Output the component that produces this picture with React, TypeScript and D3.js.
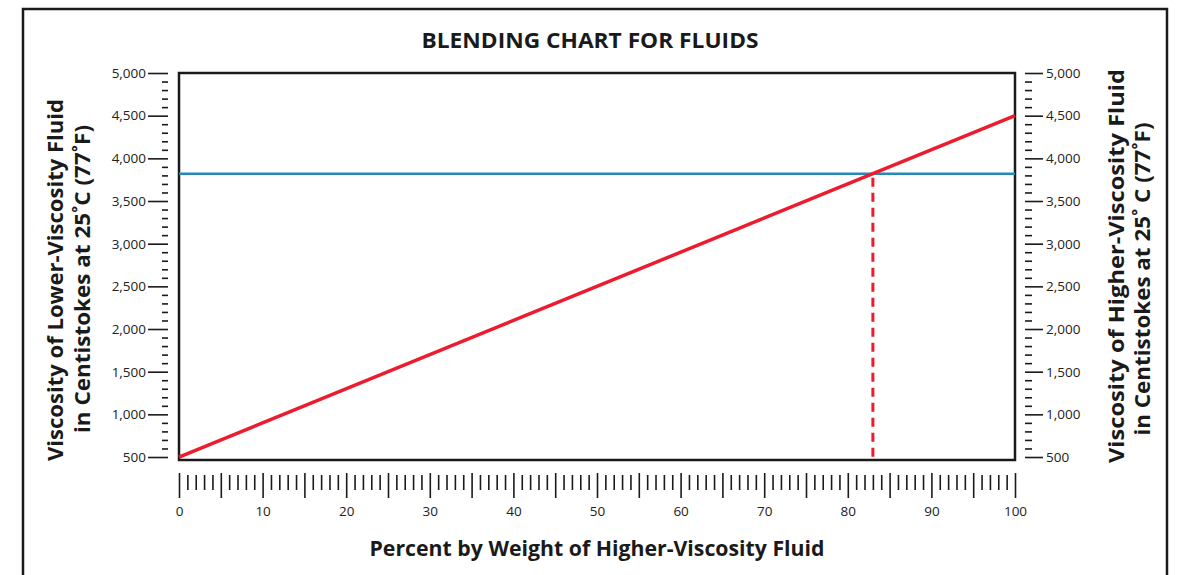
import { useEffect, useRef } from "react";
import * as d3 from "d3";

// chart values
const percentTicks = [0, 10, 20, 30, 40, 50, 60, 70, 80, 90, 100];
const viscosityTicks = [500, 1000, 1500, 2000, 2500, 3000, 3500, 4000, 4500, 5000];
const blendPercent = [0, 100];
const blendViscosity = [500, 4500];
const targetViscosity = 3820;
const targetPercent = 83;

export default function App() {
  const ref = useRef<SVGSVGElement>(null);

  useEffect(() => {
    const width = 1182;
    const height = 575;
    const left = 179, right = 1015, top = 73, bottom = 460;
    const font = "'Open Sans', 'DejaVu Sans', sans-serif";
    const ink = "#1a1a1a";
    const red = "#ec1c2e";
    const blue = "#2789b8";

    const svg = d3.select(ref.current);
    svg.selectAll("*").remove();
    svg.attr("width", width).attr("height", height).attr("viewBox", `0 0 ${width} ${height}`);

    const x = d3.scaleLinear().domain([0, 100]).range([left, right]);
    const y = d3.scaleLinear().domain([465, 5000]).range([bottom, top]);

    svg.append("rect").attr("width", width).attr("height", height).attr("fill", "white");

    // outer frame
    svg.append("rect")
      .attr("x", 23).attr("y", 9).attr("width", 1144).attr("height", 600)
      .attr("fill", "none").attr("stroke", ink).attr("stroke-width", 2.5);

    // title
    svg.append("text")
      .attr("x", 590).attr("y", 48)
      .attr("text-anchor", "middle")
      .attr("font-family", font).attr("font-weight", 700).attr("font-size", 20.5)
      .attr("textLength", 337).attr("lengthAdjust", "spacingAndGlyphs")
      .attr("fill", ink)
      .text("BLENDING CHART FOR FLUIDS");

    const styleAxis = (g: d3.Selection<SVGGElement, unknown, null, undefined>) => {
      g.select(".domain").remove();
      g.selectAll("line").attr("stroke", ink).attr("stroke-width", 1.6);
      g.selectAll("text").attr("font-family", font).attr("font-size", 13.5).attr("fill", "#222");
    };
    const minorY = d3.range(500, 5001, 100).filter(v => v % 500 !== 0);
    const minorX = d3.range(0, 101, 1).filter(v => v % 5 !== 0);
    const midX = d3.range(0, 101, 5);

    // left axis
    svg.append("g").attr("transform", "translate(168,0)")
      .call(d3.axisLeft(y).tickValues(minorY).tickSize(6).tickFormat(() => ""))
      .call(styleAxis);
    svg.append("g").attr("transform", "translate(168,0)")
      .call(d3.axisLeft(y).tickValues(viscosityTicks).tickSize(20).tickPadding(2).tickFormat(d3.format(",")))
      .call(styleAxis);

    // right axis
    svg.append("g").attr("transform", "translate(1025,0)")
      .call(d3.axisRight(y).tickValues(minorY).tickSize(7).tickFormat(() => ""))
      .call(styleAxis);
    svg.append("g").attr("transform", "translate(1025,0)")
      .call(d3.axisRight(y).tickValues(viscosityTicks).tickSize(18).tickPadding(3).tickFormat(d3.format(",")))
      .call(styleAxis);

    // bottom axis
    svg.append("g").attr("transform", "translate(0,475)")
      .call(d3.axisBottom(x).tickValues(minorX).tickSize(15).tickFormat(() => ""))
      .call(styleAxis);
    svg.append("g").attr("transform", "translate(0,473)")
      .call(d3.axisBottom(x).tickValues(midX).tickSize(25).tickFormat(() => ""))
      .call(styleAxis);
    svg.append("g").attr("transform", "translate(0,473)")
      .call(d3.axisBottom(x).tickValues(percentTicks).tickSize(0).tickPadding(33).tickFormat(d3.format("d")))
      .call(styleAxis);

    // plot box
    svg.append("rect")
      .attr("x", left).attr("y", top).attr("width", right - left).attr("height", bottom - top)
      .attr("fill", "none").attr("stroke", ink).attr("stroke-width", 2.5);

    // target horizontal line
    svg.append("line")
      .attr("x1", x(0)).attr("x2", x(100))
      .attr("y1", y(targetViscosity)).attr("y2", y(targetViscosity))
      .attr("stroke", blue).attr("stroke-width", 2.5);

    // dashed drop line
    svg.append("line")
      .attr("x1", x(targetPercent)).attr("x2", x(targetPercent))
      .attr("y1", y(targetViscosity) + 4).attr("y2", bottom)
      .attr("stroke", red).attr("stroke-width", 3)
      .attr("stroke-dasharray", "9,6");

    // blend line
    const pts = blendPercent.map((p, i) => [p, blendViscosity[i]] as [number, number]);
    svg.append("path")
      .datum(pts)
      .attr("fill", "none").attr("stroke", red).attr("stroke-width", 3.5)
      .attr("d", d3.line<[number, number]>().x(d => x(d[0])).y(d => y(d[1])));

    // axis titles
    svg.append("text")
      .attr("x", 597).attr("y", 556)
      .attr("text-anchor", "middle")
      .attr("font-family", font).attr("font-weight", 700).attr("font-size", 20.5)
      .attr("textLength", 455).attr("lengthAdjust", "spacingAndGlyphs")
      .attr("fill", ink)
      .text("Percent by Weight of Higher-Viscosity Fluid");

    const vTitle = (cx: number, cy: number, len: number, s: string) =>
      svg.append("text")
        .attr("transform", `translate(${cx},${cy}) rotate(-90)`)
        .attr("text-anchor", "middle")
        .attr("font-family", font).attr("font-weight", 700).attr("font-size", 20.5)
        .attr("textLength", len).attr("lengthAdjust", "spacingAndGlyphs")
        .attr("fill", ink)
        .text(s);

    vTitle(63, 280, 362, "Viscosity of Lower-Viscosity Fluid");
    vTitle(90, 279, 308, "in Centistokes at 25˚C (77˚F)");
    vTitle(1124, 266, 394, "Viscosity of Higher-Viscosity Fluid");
    vTitle(1150, 279, 313, "in Centistokes at 25˚ C (77˚F)");
  }, []);

  return <svg ref={ref} style={{ position: "absolute", left: 0, top: 0 }}></svg>;
}
